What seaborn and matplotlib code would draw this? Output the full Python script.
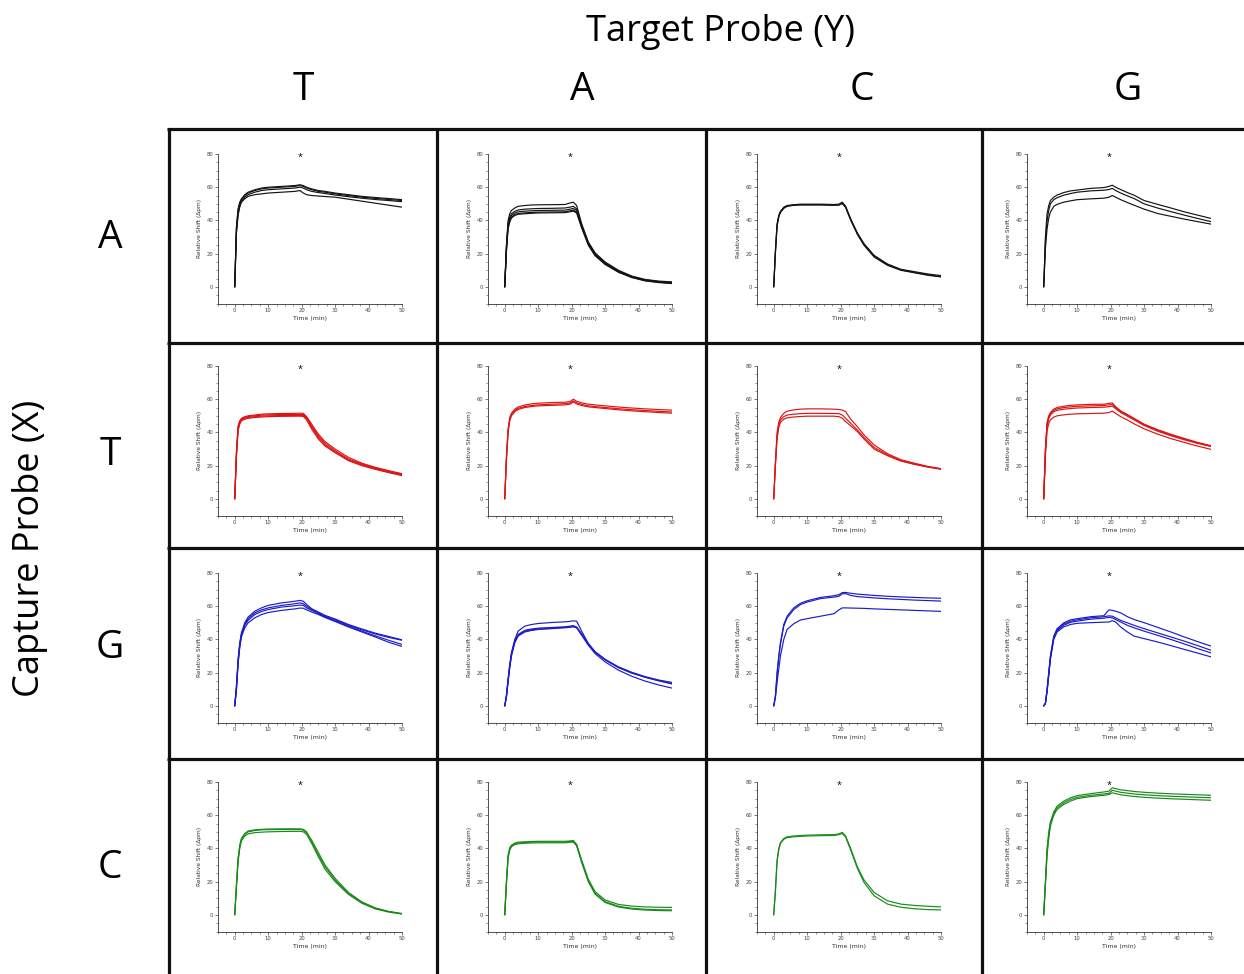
import numpy as np
import pandas as pd
import matplotlib
matplotlib.use("Agg")
import matplotlib.pyplot as plt
from matplotlib.lines import Line2D
from matplotlib.ticker import MultipleLocator
import seaborn as sns

sns.set_style("ticks")
plt.rcParams["font.family"] = ["Open Sans", "DejaVu Sans"]

# ---------------- data ----------------
TARGETS = ["T", "A", "C", "G"]      # columns (Target Probe Y)
CAPTURES = ["A", "T", "G", "C"]     # rows (Capture Probe X)
ROW_COLORS = ["#141414", "#dc1414", "#1c1cc8", "#1b8a1b"]

TIME = [0, 0.5, 1, 1.5, 2, 3, 4, 6, 8, 10, 14, 18, 19.5, 20.5, 21.5, 23, 25, 27, 30, 34, 38, 42, 46, 50]

# Capture A
A_T = [
    [0, 36, 47, 51, 53, 55.5, 57, 58.5, 59.5, 60, 60.5, 61, 61.5, 61, 60, 59, 58, 57.5, 56.5, 55.5, 54.5, 53.8, 53.2, 52.5],
    [0, 35, 46, 50, 52.5, 55, 56.5, 58, 59, 59.5, 60, 60.5, 61, 60.5, 59.5, 58.5, 57.5, 57, 56, 55, 54, 53.3, 52.6, 52],
    [0, 33, 44, 49, 51.5, 54, 55.5, 57, 58, 58.5, 59, 59.5, 60, 59.5, 58.5, 57.5, 56.8, 56.2, 55.3, 54.3, 53.4, 52.6, 52, 51.3],
    [0, 32, 43, 48, 51, 53, 54.5, 55.5, 56, 56.5, 57, 57.5, 58, 56.5, 55.5, 55, 54.7, 54.4, 54, 52.8, 51.6, 50.4, 49.2, 48],
]
A_A = [
    [0, 25, 40, 44, 46, 47.5, 48.5, 49, 49.3, 49.4, 49.5, 49.6, 50.5, 51, 49, 38, 27, 20.5, 15, 10, 6.5, 4.5, 3.5, 3],
    [0, 24, 38, 42, 44, 45.5, 46.3, 46.8, 47, 47.2, 47.3, 47.5, 48, 48.5, 47, 37, 26.5, 20, 14.5, 9.5, 6.2, 4.2, 3.2, 2.7],
    [0, 23, 37, 41, 43, 44.5, 45.2, 45.6, 45.8, 46, 46.1, 46.2, 46.8, 47.2, 46, 36.5, 26, 19.5, 14.2, 9.2, 6, 4, 3, 2.5],
    [0, 22, 36, 40, 42, 43.5, 44.2, 44.6, 44.8, 45, 45.1, 45.2, 45.8, 46.2, 45, 36, 25.5, 19, 13.8, 9, 5.8, 3.8, 2.8, 2.2],
    [0, 21, 35, 39, 41.5, 43, 43.7, 44, 44.3, 44.5, 44.6, 44.7, 45.2, 45.6, 44.5, 35.5, 25, 18.8, 13.5, 8.8, 5.6, 3.6, 2.6, 2],
]
A_C = [
    [0, 22, 38, 43, 45.5, 48, 49, 49.5, 49.8, 49.8, 49.8, 49.6, 49.8, 51, 48.5, 41, 32.5, 26, 19, 13.8, 10.6, 9.2, 7.8, 6.8],
    [0, 21, 37, 42.5, 45, 47.5, 48.7, 49.3, 49.5, 49.5, 49.5, 49.3, 49.5, 50.5, 48, 40.5, 32, 25.5, 18.5, 13.3, 10.2, 8.8, 7.3, 6.2],
    [0, 20, 36.5, 42, 44.8, 47.3, 48.5, 49.1, 49.3, 49.3, 49.3, 49.1, 49.2, 50.2, 47.8, 40.2, 31.6, 25, 18, 13, 10, 8.5, 7, 6],
]
A_G = [
    [0, 30, 44, 49, 52, 54, 55.3, 56.8, 57.8, 58.3, 59.3, 59.8, 60.5, 61.2, 60, 58.6, 56.8, 55.2, 52, 49.7, 47.5, 45.2, 43.2, 41.2],
    [0, 27, 40, 46, 50, 52.5, 53.7, 55.2, 56.2, 57, 57.8, 58.2, 58.6, 59.3, 58, 56.5, 54.8, 53.2, 50, 47.5, 45.3, 43.2, 41.2, 39.3],
    [0, 23, 35, 41.5, 45, 48.5, 49.7, 51, 51.8, 52.5, 53, 53.4, 54, 55, 54, 52.5, 50.8, 49.2, 46.8, 44.2, 42.5, 40.8, 39.3, 37.8],
]

# Capture T
T_T = [
    [0, 28, 44, 47, 48.5, 49.5, 50, 50.5, 51, 51.2, 51.4, 51.5, 51.6, 51.5, 49.5, 45, 39, 34.5, 30, 25, 21.5, 19, 17, 15.2],
    [0, 27, 43, 46.5, 48, 49, 49.6, 50, 50.4, 50.6, 50.8, 50.8, 50.8, 50.8, 49, 44, 38, 33.5, 29, 24, 21, 18.6, 16.6, 14.8],
    [0, 26, 42, 46, 47.5, 48.5, 49, 49.5, 49.8, 50, 50.2, 50.2, 50.3, 50.2, 48.5, 43, 37, 32.5, 28.3, 23.5, 20.5, 18.2, 16.2, 14.4],
    [0, 25, 41, 45, 47, 48, 48.5, 49, 49.3, 49.5, 49.7, 49.8, 49.8, 49.6, 47.5, 42, 36, 31.8, 27.8, 23, 20, 17.8, 15.8, 14],
]
T_A = [
    [0, 25, 42, 49, 51.5, 54, 55.3, 56.5, 57.2, 57.6, 58, 58.2, 58.6, 60, 58.8, 57.8, 57, 56.6, 56, 55.3, 54.7, 54.2, 53.8, 53.4],
    [0, 24, 41, 48, 50.8, 53.2, 54.5, 55.6, 56.2, 56.6, 57, 57.3, 57.7, 59, 57.8, 56.9, 56, 55.6, 55, 54.3, 53.7, 53.2, 52.7, 52.3],
    [0, 23, 40, 47, 50, 52.5, 53.8, 55, 55.6, 56, 56.3, 56.6, 57, 58.4, 57.2, 56.2, 55.4, 55, 54.4, 53.6, 53, 52.5, 52, 51.6],
]
T_C = [
    [0, 22, 40, 46, 49, 51.5, 52.8, 53.6, 54, 54.2, 54.2, 54, 53.8, 53.5, 52.5, 48, 43.5, 38.5, 32.5, 27.2, 23.6, 21.5, 19.6, 18.2],
    [0, 21, 38, 44.5, 47.5, 49.5, 50.5, 51, 51.3, 51.5, 51.5, 51.4, 51.3, 50.5, 48.5, 45.5, 41.5, 37, 31, 26.5, 23, 21, 19.3, 18],
    [0, 20, 36, 43, 46, 48, 48.8, 49.3, 49.6, 49.8, 49.8, 49.8, 49.5, 48.5, 46.5, 44, 40.5, 36, 30, 26, 22.8, 20.8, 19.2, 17.8],
]
T_G = [
    [0, 30, 46, 50, 52, 54, 55, 55.8, 56.3, 56.6, 56.9, 57, 57.5, 57.8, 55.5, 53, 50.8, 48.5, 45, 41.7, 38.9, 36.4, 34, 32],
    [0, 29, 45, 49, 51.3, 53.3, 54.2, 55, 55.4, 55.7, 56, 56.2, 56.6, 56.8, 55, 52.5, 50.3, 48, 44.6, 41.3, 38.5, 36, 33.7, 31.8],
    [0, 28, 44, 48.3, 50.5, 52.5, 53.3, 54, 54.4, 54.7, 55, 55.2, 55.5, 55.8, 54.3, 52, 49.8, 47.6, 44.2, 40.8, 38, 35.6, 33.4, 31.5],
    [0, 26, 41, 45.5, 47.5, 49.3, 50, 50.6, 51, 51.2, 51.4, 51.6, 52, 52.8, 51.5, 49.5, 47.5, 45.2, 42.2, 39, 36.3, 34, 31.8, 29.8],
]

# Capture G
G_T = [
    [0, 12, 28, 38, 44, 50, 53.5, 57, 59, 60.5, 62, 63, 63.5, 63, 61, 58.5, 56.5, 54.5, 52.3, 49, 46.3, 43.8, 41.8, 39.8],
    [0, 11, 27, 37, 43, 49, 52.5, 56, 57.8, 59, 60.5, 61.5, 62, 61.5, 60, 58, 56, 54, 51.8, 48.5, 45.8, 43.3, 41.2, 39.5],
    [0, 10, 26, 36, 42.5, 48.5, 51.5, 55, 56.8, 58, 59.5, 60.3, 60.7, 60.5, 59, 57.5, 55.6, 53.6, 51.2, 48, 45, 42.2, 39.5, 37],
    [0, 9, 25, 35, 41.5, 47, 50, 53, 55, 56.2, 57.5, 58.4, 58.9, 58.8, 57.8, 56.5, 55, 53.2, 50.8, 47.5, 44.5, 41.5, 38.3, 35.8],
]
G_A = [
    [0, 6, 16, 25, 32, 40, 45, 48, 49, 49.6, 50.2, 50.6, 50.9, 51.2, 51, 45, 37.5, 32.5, 28, 23.5, 20.2, 17.6, 15.6, 14.1],
    [0, 6, 15.5, 24, 31, 39, 43, 45.5, 46.3, 46.8, 47.2, 47.6, 48, 48.3, 47.5, 43, 37, 32.3, 27.7, 23, 19.7, 17.2, 15.1, 13.5],
    [0, 5.5, 15, 23.5, 30.5, 38.5, 42.5, 45, 45.8, 46.3, 46.8, 47.3, 47.6, 48, 47.2, 43.5, 37.5, 32.6, 28, 23.2, 19.9, 17.3, 15.2, 13.2],
    [0, 5, 14.5, 23, 30, 38, 42, 44.5, 45.4, 46, 46.5, 47, 47.3, 47.6, 47, 42.5, 36.5, 31.5, 26.5, 21.5, 17.8, 14.9, 12.6, 10.7],
]
G_C = [
    [0, 6, 20, 30, 38, 49, 54, 59, 61.8, 63.3, 65.3, 66.3, 67, 68.2, 68.3, 67.8, 67.3, 67, 66.5, 66, 65.6, 65.3, 65, 64.8],
    [0, 5.5, 19, 29, 37, 48, 53, 58, 61, 62.5, 64.6, 65.5, 66, 67.5, 67.6, 66.5, 65.8, 65.5, 65, 64.5, 64.1, 63.7, 63.4, 63.1],
    [0, 5, 14, 22, 30, 40, 46, 49.5, 51.7, 52.5, 54, 55.5, 57.8, 59, 59, 58.9, 58.8, 58.7, 58.4, 58.1, 57.8, 57.5, 57.2, 56.9],
]
G_G = [
    [0, 1.6, 10, 20, 30, 42, 46.5, 50, 51.8, 52.5, 53.7, 54.3, 57.8, 57.5, 57, 56, 53.7, 52, 50.1, 47.3, 44.5, 41.5, 38.7, 36],
    [0, 1.5, 9.5, 19.5, 29.5, 41.5, 45.8, 49.3, 51, 51.8, 53, 53.7, 54.2, 54, 53, 51.5, 50, 48.5, 46.5, 44, 41.5, 39, 36.3, 33.5],
    [0, 1.4, 9, 19, 29, 41, 45.3, 48.6, 50.3, 51, 52.2, 52.8, 53.3, 53, 52, 50.5, 48.5, 47, 45, 42.5, 40, 37.3, 34.5, 31.9],
    [0, 1.3, 8.5, 18, 28, 40, 44.5, 47.6, 49, 49.7, 50.1, 50.4, 50.5, 51.3, 50.5, 47.5, 44.5, 42, 40.5, 38.5, 36.3, 34, 31.8, 29.5],
]

# Capture C
C_T = [
    [0, 18, 34, 42, 46, 49, 50.5, 51.2, 51.5, 51.7, 51.8, 51.8, 51.8, 51.5, 50, 44, 36, 29, 21, 13, 7.5, 4, 2, 0.8],
    [0, 17, 33, 41, 45.5, 48.5, 50, 50.8, 51.2, 51.3, 51.4, 51.4, 51.4, 51, 49.3, 45, 37.5, 30, 22, 13.5, 7.8, 4.2, 2.1, 0.7],
    [0, 16, 32, 40, 44.5, 47.5, 48.8, 49.5, 49.8, 50, 50.2, 50.3, 50.3, 50, 48.5, 43, 35, 27.5, 20, 12.3, 7, 3.6, 1.7, 0.5],
]
C_A = [
    [0, 20, 36, 40.5, 42, 43.2, 43.8, 44, 44.2, 44.3, 44.3, 44.3, 44.5, 44.8, 42.5, 33, 21.5, 14, 9, 6.3, 5.3, 4.8, 4.6, 4.5],
    [0, 19, 35, 39.5, 41.5, 42.8, 43.3, 43.6, 43.8, 43.9, 43.9, 43.9, 44.2, 44.3, 42, 32, 20.5, 13, 8, 5.2, 4, 3.4, 3.1, 3],
    [0, 18, 34, 39, 41, 42.3, 42.8, 43.1, 43.3, 43.4, 43.4, 43.4, 43.7, 43.8, 41.5, 31.5, 20, 12.5, 7.5, 4.7, 3.5, 2.9, 2.6, 2.5],
]
C_C = [
    [0, 15, 33, 40, 43.5, 46, 47, 47.5, 47.8, 48, 48.2, 48.3, 48.8, 49.7, 47.5, 40, 29, 21, 13.5, 8.5, 6.5, 5.7, 5.2, 4.8],
    [0, 14, 32, 39, 43, 45.5, 46.5, 47, 47.3, 47.5, 47.7, 47.8, 48.3, 49, 46.8, 39, 28, 19.5, 11.5, 6.5, 4.6, 3.7, 3.2, 3],
]
C_G = [
    [0, 20, 40, 50, 56, 62, 65.5, 68.5, 70.5, 71.8, 73, 74, 74.5, 76.5, 76, 75.3, 74.8, 74.3, 73.8, 73.3, 72.9, 72.6, 72.3, 72],
    [0, 19, 38, 48, 55, 61, 64.5, 67.5, 69.5, 70.8, 72, 72.8, 73.2, 75, 74.5, 73.8, 73.3, 72.8, 72.3, 71.8, 71.4, 71.1, 70.8, 70.5],
    [0, 18, 36, 46, 53.5, 60, 63.5, 66.5, 68.5, 70, 71.2, 72, 72.5, 73.5, 73, 72.3, 71.8, 71.3, 70.8, 70.3, 69.9, 69.6, 69.3, 69],
]

PANELS = [
    [A_T, A_A, A_C, A_G],
    [T_T, T_A, T_C, T_G],
    [G_T, G_A, G_C, G_G],
    [C_T, C_A, C_C, C_G],
]

# ---------------- layout ----------------
W, H = 1244, 974
fig = plt.figure(figsize=(W / 100, H / 100), dpi=100)
fig.patch.set_facecolor("white")

COL_LEFT = [218, 488, 757, 1027]   # px of axes left edge (x = -5)
ROW_TOP = [154, 366, 573, 782]     # px of axes top edge (y = 80)
AX_W = 184
AX_H = 149.5

for r in range(4):
    for c in range(4):
        L, T = COL_LEFT[c], ROW_TOP[r]
        ax = fig.add_axes([L / W, 1 - (T + AX_H) / H, AX_W / W, AX_H / H])
        curves = PANELS[r][c]
        rows = []
        for k, vals in enumerate(curves):
            for t, v in zip(TIME, vals):
                rows.append((t, v, k))
        df = pd.DataFrame(rows, columns=["time", "shift", "rep"])
        sns.lineplot(data=df, x="time", y="shift", units="rep", estimator=None,
                     color=ROW_COLORS[r], lw=0.85, ax=ax, legend=False)
        ax.set_xlim(-5, 50)
        ax.set_ylim(-10, 80)
        ax.xaxis.set_minor_locator(MultipleLocator(2.5))
        ax.yaxis.set_minor_locator(MultipleLocator(5))
        ax.set_xticks([0, 10, 20, 30, 40, 50])
        ax.set_yticks([0, 20, 40, 60, 80])
        ax.tick_params(which="major", direction="out", length=2, width=0.5,
                       labelsize=3.8, colors="#444444", pad=1.5)
        ax.tick_params(which="minor", direction="out", length=1.2, width=0.4, colors="#444444")
        for s in ["top", "right"]:
            ax.spines[s].set_visible(False)
        for s in ["left", "bottom"]:
            ax.spines[s].set_linewidth(0.6)
            ax.spines[s].set_color("#333333")
        ax.set_xlabel("Time (min)", fontsize=4.5, color="#333333", labelpad=2,
                      family=["DejaVu Sans"])
        ax.set_ylabel("Relative Shift (\u0394pm)", fontsize=4.2, color="#333333",
                      labelpad=3, family=["DejaVu Sans"])
        for lab in ax.get_xticklabels() + ax.get_yticklabels():
            lab.set_family("DejaVu Sans")
        ax.text(19.5, 78, "*", ha="center", va="center", fontsize=6.5, color="black",
                clip_on=False)
        ax.set_facecolor("none")

# ---------------- grid frame ----------------
LW = 2.3
VX = [169, 437, 706, 982]
HY = [129, 343, 548, 759]
for x in VX:
    fig.add_artist(Line2D([x / W, x / W], [1 - 127.5 / H, 0], color="#111111", lw=LW,
                          solid_capstyle="butt"))
for y in HY:
    fig.add_artist(Line2D([167.5 / W, 1], [1 - y / H, 1 - y / H], color="#111111", lw=LW,
                          solid_capstyle="butt"))

# ---------------- headings ----------------
fig.text(720 / W, 1 - 32 / H, "Target Probe (Y)", ha="center", va="center", fontsize=26,
         color="black")
for x, lab in zip([303, 582, 862, 1128], TARGETS):
    fig.text(x / W, 1 - 90 / H, lab, ha="center", va="center", fontsize=28, color="black")
for y, lab in zip([238, 455, 648, 868], CAPTURES):
    fig.text(110 / W, 1 - y / H, lab, ha="center", va="center", fontsize=28, color="black")
fig.text(30 / W, 1 - 548 / H, "Capture Probe (X)", ha="center", va="center",
         fontsize=26, rotation=90, color="black")

fig.savefig("out.png", dpi=100, facecolor="white")
